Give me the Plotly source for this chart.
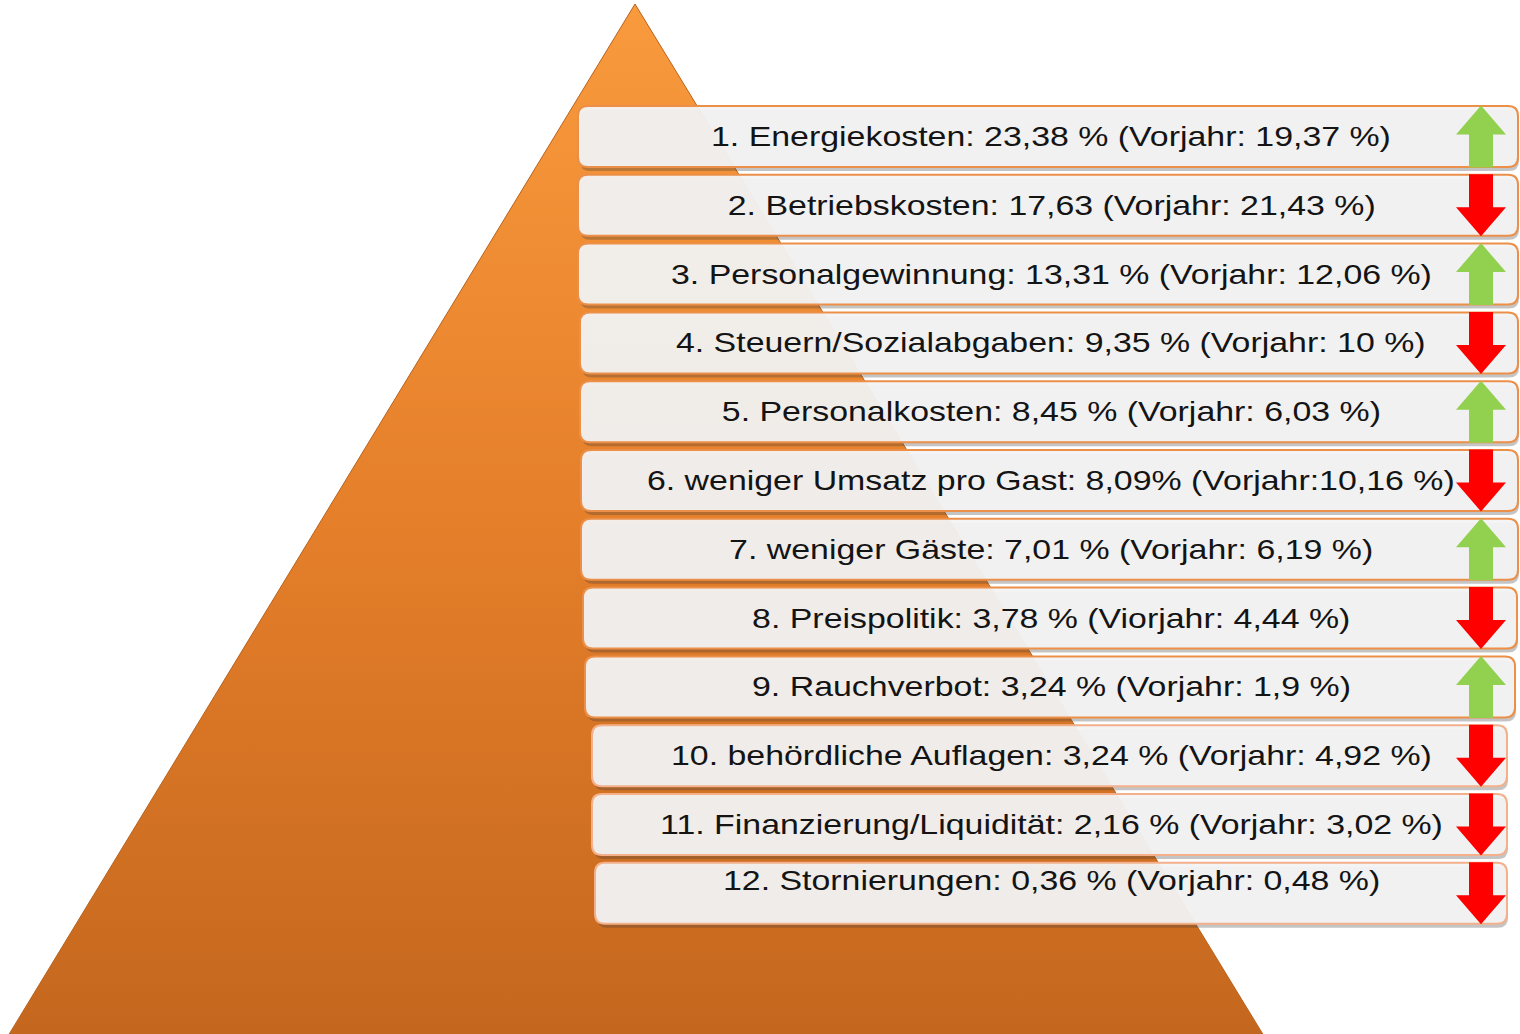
import plotly.graph_objects as go

# ---------------- data ----------------
labels = [
    "1. Energiekosten: 23,38 % (Vorjahr: 19,37 %)",
    "2. Betriebskosten: 17,63 (Vorjahr: 21,43 %)",
    "3. Personalgewinnung: 13,31 % (Vorjahr: 12,06 %)",
    "4. Steuern/Sozialabgaben: 9,35 % (Vorjahr: 10 %)",
    "5. Personalkosten: 8,45 % (Vorjahr: 6,03 %)",
    "6. weniger Umsatz pro Gast: 8,09% (Vorjahr:10,16 %)",
    "7. weniger Gäste: 7,01 % (Vorjahr: 6,19 %)",
    "8. Preispolitik: 3,78 % (Viorjahr: 4,44 %)",
    "9. Rauchverbot: 3,24 % (Vorjahr: 1,9 %)",
    "10. behördliche Auflagen: 3,24 % (Vorjahr: 4,92 %)",
    "11. Finanzierung/Liquidität: 2,16 % (Vorjahr: 3,02 %)",
    "12. Stornierungen: 0,36 % (Vorjahr: 0,48 %)",
]
current = [23.38, 17.63, 13.31, 9.35, 8.45, 8.09, 7.01, 3.78, 3.24, 3.24, 2.16, 0.36]
previous = [19.37, 21.43, 12.06, 10.0, 6.03, 10.16, 6.19, 4.44, 1.9, 4.92, 3.02, 0.48]

# ---------------- layout geometry ----------------
W, H = 1520, 1034
ROW_TOP0 = 106
PITCH = 68.8
BOX_H = 61
box_left = [578, 578, 578, 580, 580, 581, 581, 583, 585, 592, 592, 595]
box_right = [1518, 1518, 1518, 1518, 1518, 1518, 1518, 1517, 1515, 1507, 1507, 1507]
TEXT_X = 1051
ARROW_X = 1481
ARROW_LEN = 62
SHAFT_W = 24
HEAD_W = 50
HEAD_H = 29

GREEN = "#92D050"
RED = "#FF0000"

fig = go.Figure()

# pyramid
apex = (635, 4)
base_l = (8, 1036)
base_r = (1264, 1036)
fig.add_trace(go.Scatter(
    x=[apex[0], base_r[0], base_l[0], apex[0]],
    y=[apex[1], base_r[1], base_l[1], apex[1]],
    mode="lines", fill="toself",
    line=dict(color="#B8621C", width=1),
    fillgradient=dict(type="vertical",
                      colorscale=[[0, "#C4671E"], [0.5, "#E57F2A"], [1, "#F99A3D"]]),
    hoverinfo="skip", showlegend=False,
))


def rrect(x0, y0, x1, y1, r):
    return (f"M {x0+r},{y0} L {x1-r},{y0} Q {x1},{y0} {x1},{y0+r} "
            f"L {x1},{y1-r} Q {x1},{y1} {x1-r},{y1} L {x0+r},{y1} "
            f"Q {x0},{y1} {x0},{y1-r} L {x0},{y0+r} Q {x0},{y0} {x0+r},{y0} Z")


shapes = []
annotations = []
for i, lab in enumerate(labels):
    y0 = ROW_TOP0 + i * PITCH
    y1 = y0 + BOX_H
    x0, x1 = box_left[i], box_right[i]
    border = "#EC8F48" if i < 9 else "#F3B08A"
    # shadow
    shapes.append(dict(type="path", xref="x", yref="y",
                       path=rrect(x0 + 2, y0 + 4, x1 + 1, y1 + 4, 10),
                       fillcolor="rgba(60,60,60,0.30)", line=dict(width=0)))
    # box
    shapes.append(dict(type="path", xref="x", yref="y",
                       path=rrect(x0, y0, x1, y1, 10),
                       fillcolor="rgba(243,243,243,0.95)",
                       line=dict(color=border, width=2)))
    ty = (y0 + y1) / 2 if i < len(labels) - 1 else y0 + 18
    annotations.append(dict(x=TEXT_X, y=ty, xref="x", yref="y", text=lab,
                            showarrow=False, xanchor="center", yanchor="middle",
                            font=dict(family="Liberation Sans, Arial", size=28,
                                      color="#141414")))

# arrows
for i in range(len(labels)):
    yc = ROW_TOP0 + i * PITCH + BOX_H / 2
    up = current[i] > previous[i]
    cx = ARROW_X
    if up:
        tip = yc - ARROW_LEN / 2
        bot = yc + ARROW_LEN / 2
        hb = tip + HEAD_H
        pts = [(cx, tip), (cx + HEAD_W / 2, hb), (cx + SHAFT_W / 2, hb),
               (cx + SHAFT_W / 2, bot), (cx - SHAFT_W / 2, bot),
               (cx - SHAFT_W / 2, hb), (cx - HEAD_W / 2, hb)]
        col = GREEN
    else:
        top = yc - ARROW_LEN / 2
        tip = yc + ARROW_LEN / 2
        hb = tip - HEAD_H
        pts = [(cx - SHAFT_W / 2, top), (cx + SHAFT_W / 2, top),
               (cx + SHAFT_W / 2, hb), (cx + HEAD_W / 2, hb), (cx, tip),
               (cx - HEAD_W / 2, hb), (cx - SHAFT_W / 2, hb)]
        col = RED
    path = "M " + " L ".join(f"{px},{py}" for px, py in pts) + " Z"
    shapes.append(dict(type="path", xref="x", yref="y", path=path,
                       fillcolor=col, line=dict(width=0)))

fig.update_layout(
    width=W, height=H,
    margin=dict(l=0, r=0, t=0, b=0),
    paper_bgcolor="white", plot_bgcolor="white",
    xaxis=dict(range=[0, W], visible=False, fixedrange=True),
    yaxis=dict(range=[H, 0], visible=False, fixedrange=True),
    shapes=shapes, annotations=annotations,
    showlegend=False,
)

post = """
document.body.style.margin = '0';
document.body.style.overflow = 'hidden';
document.querySelectorAll('.annotation-text').forEach(function(t){
  var L = t.getComputedTextLength();
  t.setAttribute('lengthAdjust', 'spacingAndGlyphs');
  t.setAttribute('textLength', (L * 1.21).toFixed(1));
});
"""
fig.write_html("out.html", post_script=post, config={"displayModeBar": False})
